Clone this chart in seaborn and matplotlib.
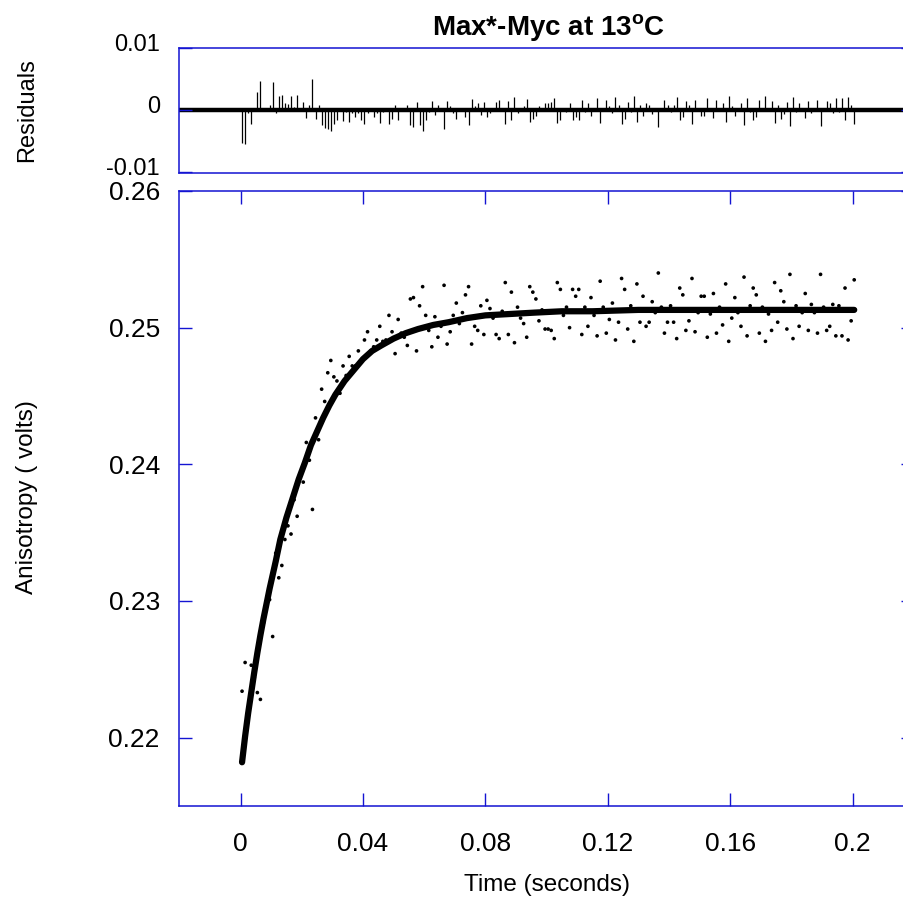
import numpy as np
import pandas as pd
import matplotlib
matplotlib.use("Agg")
import matplotlib.pyplot as plt
import matplotlib.transforms as mtransforms
import seaborn as sns

# ---------------- data ----------------
sample_start = 0.0005   # s, first sample
sample_step = 0.001     # s, sampling interval

anisotropy = [
    0.2234, 0.2255, 0.2221, 0.2253, 0.2244, 0.2233, 0.2228, 0.2284, 0.2300, 0.2301,
    0.2274, 0.2335, 0.2317, 0.2326, 0.2345, 0.2355, 0.2349, 0.2374, 0.2362, 0.2391,
    0.2387, 0.2416, 0.2403, 0.2367, 0.2434, 0.2418, 0.2455, 0.2446, 0.2467, 0.2476,
    0.2464, 0.2461, 0.2452, 0.2472, 0.2465, 0.2479, 0.2472, 0.2472, 0.2483, 0.2476,
    0.2491, 0.2497, 0.2483, 0.2486, 0.2491, 0.2501, 0.2490, 0.2491, 0.2509, 0.2497,
    0.2481, 0.2506, 0.2496, 0.2493, 0.2487, 0.2521, 0.2522, 0.2483, 0.2516, 0.2530,
    0.2509, 0.2498, 0.2486, 0.2508, 0.2493, 0.2501, 0.2531, 0.2488, 0.2497, 0.2509,
    0.2518, 0.2503, 0.2511, 0.2524, 0.2530, 0.2488, 0.2501, 0.2498, 0.2516, 0.2495,
    0.2520, 0.2514, 0.2507, 0.2495, 0.2492, 0.2512, 0.2533, 0.2495, 0.2526, 0.2489,
    0.2515, 0.2507, 0.2503, 0.2493, 0.2530, 0.2526, 0.2521, 0.2505, 0.2513, 0.2499,
    0.2499, 0.2498, 0.2492, 0.2533, 0.2528, 0.2509, 0.2515, 0.2500, 0.2528, 0.2523,
    0.2528, 0.2495, 0.2515, 0.2501, 0.2522, 0.2509, 0.2494, 0.2534, 0.2515, 0.2496,
    0.2506, 0.2518, 0.2491, 0.2504, 0.2536, 0.2528, 0.2499, 0.2516, 0.2490, 0.2532,
    0.2504, 0.2523, 0.2501, 0.2504, 0.2519, 0.2511, 0.2540, 0.2515, 0.2496, 0.2504,
    0.2516, 0.2504, 0.2492, 0.2529, 0.2524, 0.2498, 0.2505, 0.2536, 0.2497, 0.2511,
    0.2523, 0.2523, 0.2493, 0.2510, 0.2525, 0.2496, 0.2515, 0.2502, 0.2532, 0.2490,
    0.2507, 0.2522, 0.2511, 0.2501, 0.2537, 0.2494, 0.2516, 0.2529, 0.2524, 0.2496,
    0.2515, 0.2490, 0.2510, 0.2498, 0.2533, 0.2504, 0.2527, 0.2519, 0.2499, 0.2539,
    0.2492, 0.2516, 0.2501, 0.2511, 0.2525, 0.2498, 0.2517, 0.2511, 0.2496, 0.2539,
    0.2515, 0.2498, 0.2501, 0.2517, 0.2494, 0.2516, 0.2494, 0.2529, 0.2491, 0.2505,
    0.2535,
]

residuals = [
    -0.0053, -0.0054, -0.0005, -0.0022, 0.0004, 0.0030, 0.0047, 0.0003, -0.0002, 0.0008,
    0.0045, -0.0005, 0.0023, 0.0024, 0.0012, 0.0010, 0.0023, 0.0005, 0.0024, 0.0002,
    0.0013, -0.0012, 0.0009, 0.0050, -0.0014, 0.0008, -0.0024, -0.0028, -0.0030, -0.0034,
    -0.0022, -0.0016, 0.0004, -0.0017, -0.0003, -0.0019, -0.0004, -0.0011, -0.0004, -0.0016,
    -0.0022, -0.0005, -0.0002, -0.0011, -0.0004, -0.0021, -0.0003, 0.0002, -0.0022, -0.0014,
    0.0009, -0.0016, -0.0002, 0.0002, 0.0008, -0.0024, -0.0027, 0.0014, -0.0024, -0.0034,
    -0.0016, -0.0003, 0.0015, -0.0008, 0.0009, 0.0002, -0.0030, 0.0015, 0.0007, -0.0005,
    -0.0014, -0.0002, 0.0003, -0.0011, -0.0024, 0.0018, 0.0007, 0.0011, -0.0008, 0.0014,
    -0.0011, -0.0005, 0.0002, 0.0014, 0.0017, -0.0002, -0.0023, 0.0015, -0.0016, 0.0021,
    -0.0005, 0.0003, 0.0007, 0.0018, -0.0019, -0.0015, -0.0010, 0.0006, -0.0002, 0.0012,
    0.0012, 0.0014, 0.0020, -0.0021, -0.0016, 0.0003, -0.0003, 0.0012, -0.0016, -0.0011,
    -0.0016, 0.0017, -0.0003, 0.0011, -0.0010, 0.0003, 0.0019, -0.0021, -0.0002, 0.0017,
    0.0007, -0.0005, 0.0022, 0.0009, -0.0023, -0.0015, 0.0014, -0.0003, 0.0023, -0.0019,
    0.0009, -0.0010, 0.0012, 0.0009, -0.0006, 0.0002, -0.0027, -0.0002, 0.0017, 0.0009,
    -0.0003, 0.0009, 0.0021, -0.0016, -0.0011, 0.0015, 0.0008, -0.0023, 0.0016, 0.0002,
    -0.0010, -0.0010, 0.0020, 0.0003, -0.0012, 0.0017, -0.0002, 0.0011, -0.0019, 0.0023,
    0.0006, -0.0009, 0.0002, 0.0012, -0.0024, 0.0019, -0.0003, -0.0016, -0.0011, 0.0017,
    -0.0002, 0.0023, 0.0003, 0.0015, -0.0020, 0.0009, -0.0014, -0.0006, 0.0014, -0.0026,
    0.0021, -0.0003, 0.0012, 0.0002, -0.0012, 0.0015, -0.0004, 0.0002, 0.0017, -0.0026,
    -0.0002, 0.0015, 0.0012, -0.0004, 0.0019, -0.0003, 0.0019, -0.0016, 0.0022, 0.0008,
    -0.0022,
]

fit_time = [0.0005, 0.0015, 0.0025, 0.0035, 0.0045, 0.0055, 0.0065, 0.0075, 0.0085,
            0.0095, 0.0105, 0.0115, 0.013, 0.015, 0.017, 0.019, 0.021, 0.023, 0.025,
            0.027, 0.029, 0.031, 0.034, 0.037, 0.040, 0.043, 0.046, 0.050, 0.054,
            0.058, 0.063, 0.068, 0.074, 0.080, 0.088, 0.096, 0.105, 0.115, 0.130,
            0.160, 0.2005]
fit_anisotropy = [0.2182, 0.2201, 0.2218, 0.2233, 0.2248, 0.2262, 0.2275, 0.2287, 0.2298,
                  0.2309, 0.2319, 0.2329, 0.2345, 0.2361, 0.2375, 0.2389, 0.2401, 0.2414,
                  0.2424, 0.2434, 0.2443, 0.2451, 0.2461, 0.2469, 0.2477, 0.2483, 0.2487,
                  0.2492, 0.2496, 0.2499, 0.2502, 0.2504, 0.2507, 0.2509, 0.2510, 0.2511,
                  0.2512, 0.2512, 0.2513, 0.2513, 0.2513]

x_ticks = [0, 0.04, 0.08, 0.12, 0.16, 0.2]
x_tick_labels = ["0", "0.04", "0.08", "0.12", "0.16", "0.2"]
y_ticks = [0.22, 0.23, 0.24, 0.25, 0.26]
y_tick_labels = ["0.22", "0.23", "0.24", "0.25", "0.26"]
res_ticks = [-0.01, 0, 0.01]
res_tick_labels = ["-0.01", "0", "0.01"]

title = "Max*-Myc at 13$^{\\mathbf{o}}$C"
x_label = "Time (seconds)"
y_label = "Anisotropy ( volts)"
res_label = "Residuals"

# ---------------- styling ----------------
sns.set_theme(style="white")
plt.rcParams["font.family"] = ["Liberation Sans", "DejaVu Sans"]
plt.rcParams["mathtext.fontset"] = "custom"
plt.rcParams["mathtext.rm"] = "Liberation Sans"
plt.rcParams["mathtext.bf"] = "Liberation Sans:bold"
plt.rcParams["axes.unicode_minus"] = False

BLUE = "#1414d2"
W, H = 904, 901

time = sample_start + sample_step * np.arange(len(anisotropy))
df = pd.DataFrame({"time": time, "anisotropy": anisotropy, "residual": residuals})
fit_df = pd.DataFrame({"time": fit_time, "fit": fit_anisotropy})

fig = plt.figure(figsize=(W / 100, H / 100), dpi=100)
fig.patch.set_facecolor("white")

ax_main = fig.add_axes([179.3 / W, 1 - 806 / H, 734.6 / W, 615 / H])
ax_res = fig.add_axes([179.3 / W, 1 - 172.7 / H, 734.6 / W, 124.4 / H])

# main panel
sns.scatterplot(data=df, x="time", y="anisotropy", ax=ax_main, s=7, color="black",
                edgecolor="none", linewidth=0, zorder=3, legend=False)
sns.lineplot(data=fit_df, x="time", y="fit", ax=ax_main, color="black", linewidth=4.5,
             zorder=4, legend=False)
ax_main.set_xlim(-0.02, 0.22)
ax_main.set_ylim(0.215, 0.26)
ax_main.set_xticks(x_ticks)
ax_main.set_xticklabels(x_tick_labels)
ax_main.set_yticks(y_ticks)
ax_main.set_yticklabels(y_tick_labels)
ax_main.set_xlabel("")
ax_main.set_ylabel("")

# residual panel
ax_res.vlines(df["time"], 0, df["residual"], color="black", linewidth=0.9, zorder=2)
ax_res.axhline(0, color="black", linewidth=3.2, zorder=2)
ax_res.set_xlim(-0.02, 0.22)
ax_res.set_ylim(-0.0101, 0.01)
ax_res.set_xticks([])
ax_res.set_yticks(res_ticks)
ax_res.set_yticklabels(res_tick_labels)

for ax in (ax_main, ax_res):
    ax.set_facecolor("white")
    ax.set_axisbelow(False)
    for sp in ax.spines.values():
        sp.set_color(BLUE)
        sp.set_linewidth(1.1)
        sp.set_visible(True)

ax_main.tick_params(axis="x", direction="in", length=9.5, width=1.0, color=BLUE,
                    top=True, bottom=True, labelsize=19, pad=19, labelcolor="black")
ax_main.tick_params(axis="y", direction="in", length=9.5, width=1.0, color=BLUE,
                    left=True, right=True, labelsize=19, pad=14, labelcolor="black")
ax_res.tick_params(axis="y", direction="in", length=9.5, width=1.0, color=BLUE,
                   left=True, right=True, labelsize=17, pad=14, labelcolor="black")

# residual labels sit a bit above their ticks in the reference
offset = mtransforms.ScaledTranslation(0, 5.5 / 100, fig.dpi_scale_trans)
for lab in ax_res.get_yticklabels():
    lab.set_transform(lab.get_transform() + offset)

fig.text(548.5 / W, 1 - 28 / H, title, ha="center", va="center", fontsize=20,
         fontweight="bold", color="black")
fig.text(547 / W, 1 - 885 / H, x_label, ha="center", va="center", fontsize=17.5,
         color="black")
fig.text(27 / W, 1 - 497 / H, y_label, ha="center", va="center", rotation=90,
         fontsize=17.5, color="black")
fig.text(27 / W, 1 - 110 / H, res_label, ha="center", va="center", rotation=90,
         fontsize=17, color="black")

fig.savefig("out.png", dpi=100, facecolor="white")
